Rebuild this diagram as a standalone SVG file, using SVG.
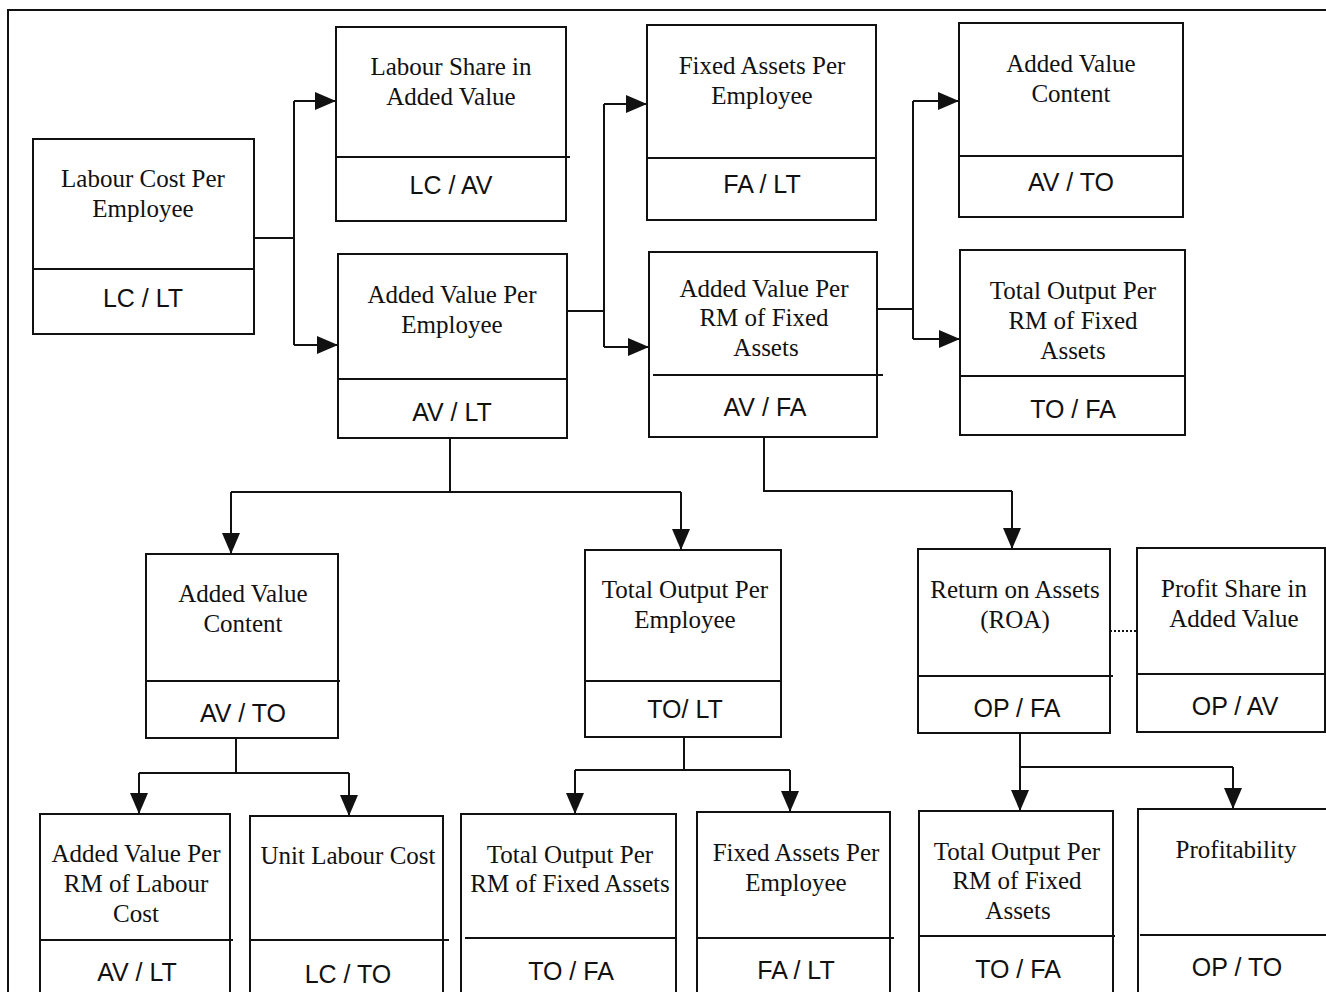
<svg xmlns="http://www.w3.org/2000/svg" width="1326" height="992" viewBox="0 0 1326 992">
<defs>
<marker id="ah" markerUnits="userSpaceOnUse" markerWidth="22" markerHeight="18" viewBox="0 0 22 18" refX="21" refY="9" orient="auto">
<path d="M0,0 L21,9 L0,18 Z" fill="#111"/>
</marker>
</defs>
<style>
.b{fill:#fff;stroke:#111;stroke-width:2}
.d{stroke:#111;stroke-width:2}
.t{font-family:"Liberation Serif","Times New Roman",serif;font-size:25px;fill:#111;text-anchor:middle}
.r{font-family:"Liberation Sans",Arial,sans-serif;font-size:25px;fill:#111;text-anchor:middle}
.c{fill:none;stroke:#111;stroke-width:2}
.a{marker-end:url(#ah)}
</style>
<rect width="1326" height="992" fill="#fff"/>
<g id="frame"><path class="c" d="M8,992 V10 H1326"/></g>

<g id="connectors">
<path class="c" d="M254,238 H294 M294,101 V345"/>
<path class="c a" d="M294,101 H336"/>
<path class="c a" d="M294,345 H338"/>
<path class="c" d="M567,311 H604 M604,104 V347"/>
<path class="c a" d="M604,104 H647"/>
<path class="c a" d="M604,347 H649"/>
<path class="c" d="M877,309 H913 M913,101 V339"/>
<path class="c a" d="M913,101 H959"/>
<path class="c a" d="M913,339 H960"/>
<path class="c" d="M450,438 V492 M231,492 H681"/>
<path class="c a" d="M231,492 V554"/>
<path class="c a" d="M681,492 V550"/>
<path class="c" d="M764,437 V491 H1012"/>
<path class="c a" d="M1012,491 V549"/>
<path class="c" stroke-dasharray="2,2" d="M1110,631 H1137"/>
<path class="c" d="M236,738 V773 M139,773 H349"/>
<path class="c a" d="M139,773 V814"/>
<path class="c a" d="M349,773 V816"/>
<path class="c" d="M684,737 V770 M575,770 H790"/>
<path class="c a" d="M575,770 V814"/>
<path class="c a" d="M790,770 V812"/>
<path class="c" d="M1020,733 V767 H1233"/>
<path class="c a" d="M1020,767 V811"/>
<path class="c a" d="M1233,767 V809"/>
</g>

<g id="n1"><rect class="b" x="33" y="139" width="221" height="195"/><line class="d" x1="33" y1="269" x2="254" y2="269"/>
<text class="t" x="143" y="187">Labour Cost Per</text><text class="t" x="143" y="217">Employee</text><text class="r" x="143" y="307">LC / LT</text></g>

<g id="n2"><rect class="b" x="336" y="27" width="230" height="194"/><line class="d" x1="336" y1="157" x2="570" y2="157"/>
<text class="t" x="451" y="75">Labour Share in</text><text class="t" x="451" y="105">Added Value</text><text class="r" x="451" y="194">LC / AV</text></g>

<g id="n3"><rect class="b" x="338" y="254" width="229" height="184"/><line class="d" x1="338" y1="379" x2="567" y2="379"/>
<text class="t" x="452" y="303">Added Value Per</text><text class="t" x="452" y="333">Employee</text><text class="r" x="452" y="421">AV / LT</text></g>

<g id="n4"><rect class="b" x="647" y="25" width="229" height="195"/><line class="d" x1="647" y1="158" x2="876" y2="158"/>
<text class="t" x="762" y="74">Fixed Assets Per</text><text class="t" x="762" y="104">Employee</text><text class="r" x="762" y="193">FA / LT</text></g>

<g id="n5"><rect class="b" x="649" y="252" width="228" height="185"/><line class="d" x1="653" y1="375" x2="883" y2="375"/>
<text class="t" x="764" y="297">Added Value Per</text><text class="t" x="764" y="326">RM of Fixed</text><text class="t" x="766" y="356">Assets</text><text class="r" x="765" y="416">AV / FA</text></g>

<g id="n6"><rect class="b" x="959" y="23" width="224" height="194"/><line class="d" x1="959" y1="156" x2="1183" y2="156"/>
<text class="t" x="1071" y="72">Added Value</text><text class="t" x="1071" y="102">Content</text><text class="r" x="1071" y="191">AV / TO</text></g>

<g id="n7"><rect class="b" x="960" y="250" width="225" height="185"/><line class="d" x1="960" y1="376" x2="1185" y2="376"/>
<text class="t" x="1073" y="299">Total Output Per</text><text class="t" x="1073" y="329">RM of Fixed</text><text class="t" x="1073" y="359">Assets</text><text class="r" x="1073" y="418">TO / FA</text></g>

<g id="n8"><rect class="b" x="146" y="554" width="192" height="184"/><line class="d" x1="146" y1="681" x2="340" y2="681"/>
<text class="t" x="243" y="602">Added Value</text><text class="t" x="243" y="632">Content</text><text class="r" x="243" y="722">AV / TO</text></g>

<g id="n9"><rect class="b" x="585" y="550" width="196" height="187"/><line class="d" x1="585" y1="681" x2="781" y2="681"/>
<text class="t" x="685" y="598">Total Output Per</text><text class="t" x="685" y="628">Employee</text><text class="r" x="685" y="718">TO/ LT</text></g>

<g id="n10"><rect class="b" x="918" y="549" width="192" height="184"/><line class="d" x1="918" y1="676" x2="1113" y2="676"/>
<text class="t" x="1015" y="598">Return on Assets</text><text class="t" x="1015" y="628">(ROA)</text><text class="r" x="1017" y="717">OP / FA</text></g>

<g id="n11"><rect class="b" x="1137" y="548" width="188" height="184"/><line class="d" x1="1137" y1="674" x2="1326" y2="674"/>
<text class="t" x="1234" y="597">Profit Share in</text><text class="t" x="1234" y="627">Added Value</text><text class="r" x="1235" y="715">OP / AV</text></g>

<g id="n12"><rect class="b" x="40" y="814" width="190" height="190"/><line class="d" x1="40" y1="940" x2="233" y2="940"/>
<text class="t" x="136" y="862">Added Value Per</text><text class="t" x="136" y="892">RM of Labour</text><text class="t" x="136" y="922">Cost</text><text class="r" x="137" y="981">AV / LT</text></g>

<g id="n13"><rect class="b" x="250" y="816" width="193" height="190"/><line class="d" x1="250" y1="940" x2="449" y2="940"/>
<text class="t" x="348" y="864">Unit Labour Cost</text><text class="r" x="348" y="983">LC / TO</text></g>

<g id="n14"><rect class="b" x="461" y="814" width="215" height="190"/><line class="d" x1="465" y1="938" x2="676" y2="938"/>
<text class="t" x="570" y="863">Total Output Per</text><text class="t" x="570" y="892">RM of Fixed Assets</text><text class="r" x="571" y="980">TO / FA</text></g>

<g id="n15"><rect class="b" x="697" y="812" width="193" height="190"/><line class="d" x1="697" y1="938" x2="894" y2="938"/>
<text class="t" x="796" y="861">Fixed Assets Per</text><text class="t" x="796" y="891">Employee</text><text class="r" x="796" y="979">FA / LT</text></g>

<g id="n16"><rect class="b" x="919" y="811" width="194" height="190"/><line class="d" x1="919" y1="936" x2="1115" y2="936"/>
<text class="t" x="1017" y="860">Total Output Per</text><text class="t" x="1017" y="889">RM of Fixed</text><text class="t" x="1018" y="919">Assets</text><text class="r" x="1018" y="978">TO / FA</text></g>

<g id="n17"><rect class="b" x="1138" y="809" width="190" height="190"/><line class="d" x1="1140" y1="935" x2="1326" y2="935"/>
<text class="t" x="1236" y="858">Profitability</text><text class="r" x="1237" y="976">OP / TO</text></g>
</svg>
